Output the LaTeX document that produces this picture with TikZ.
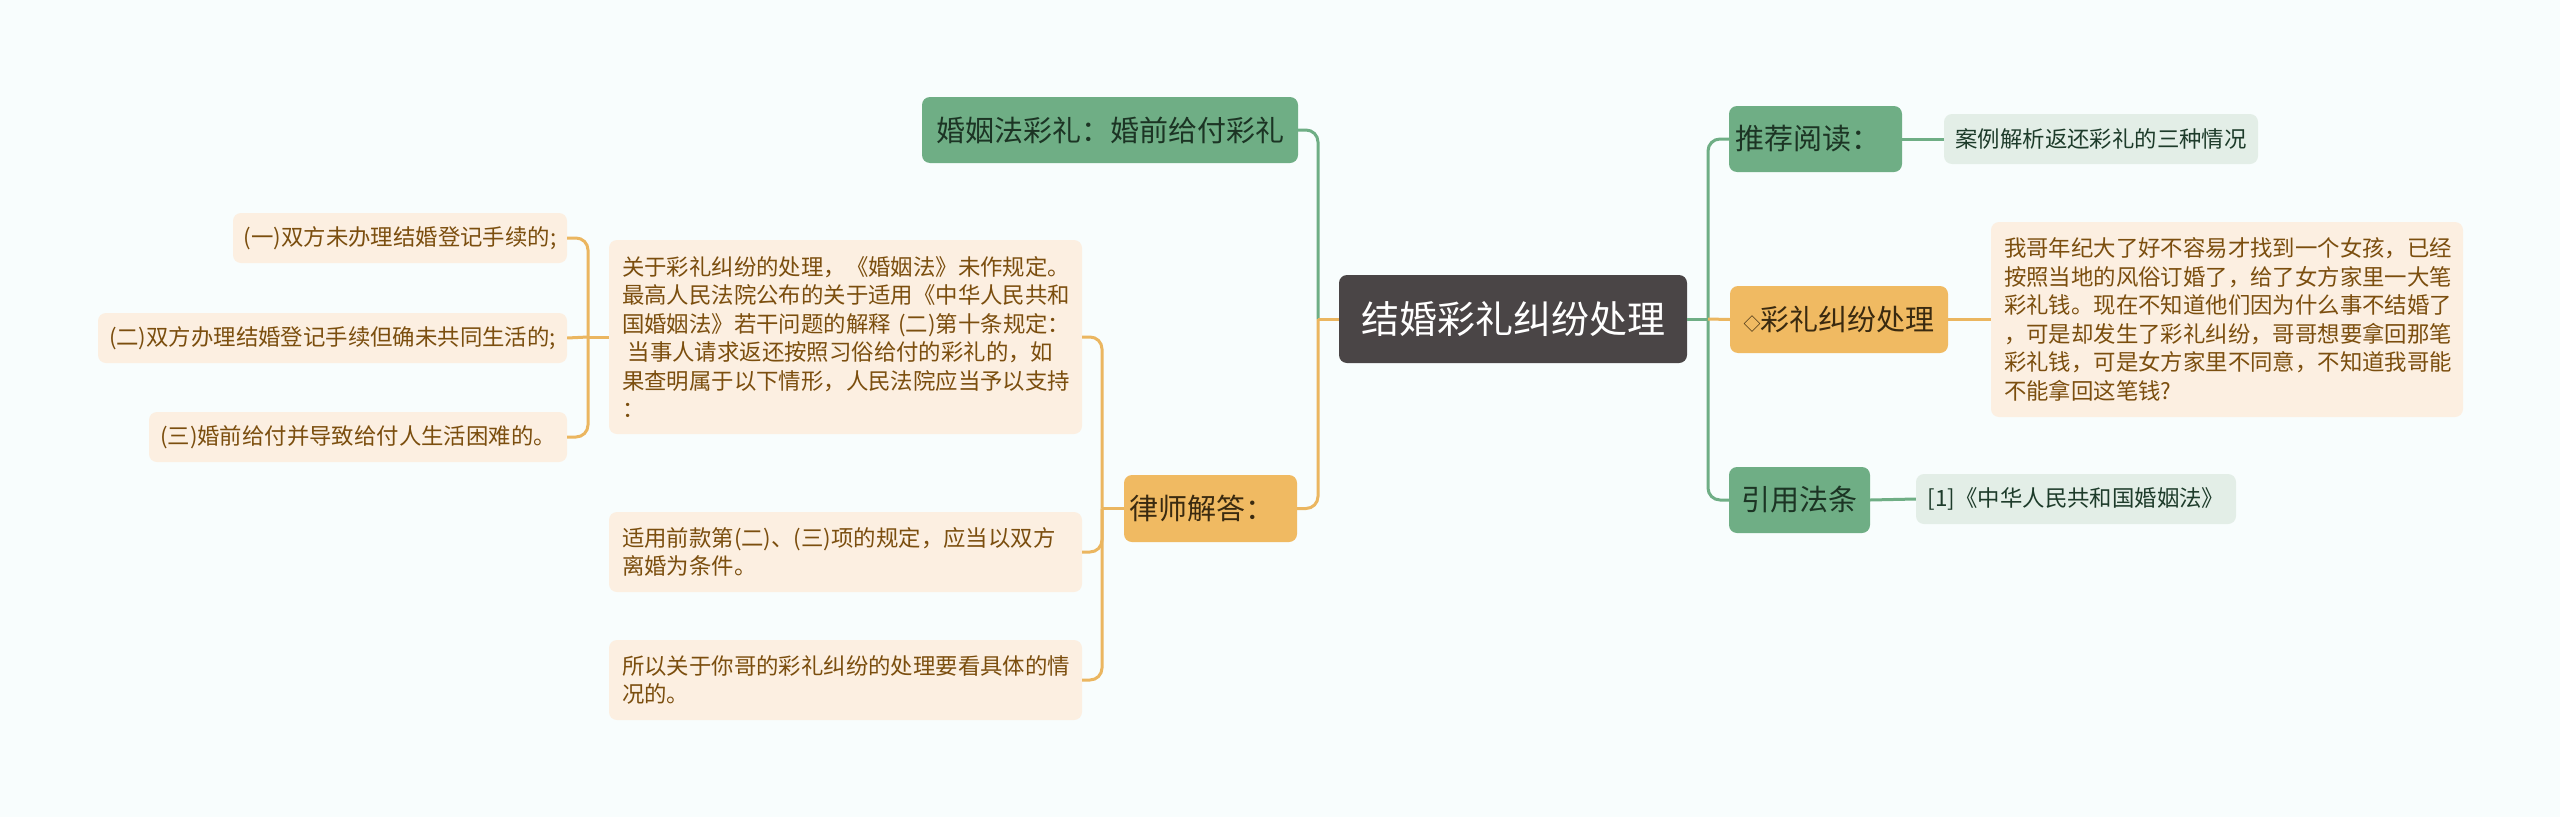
\documentclass[tikz,border=0pt]{standalone}
\usepackage{fontspec}
\setmainfont{Noto Sans CJK SC}
\definecolor{bgc}{HTML}{F8FDFD}
\definecolor{cdark}{HTML}{4A4546}
\definecolor{gfill}{HTML}{6FAE85}
\definecolor{gtext}{HTML}{1C3424}
\definecolor{ofill}{HTML}{F0BA62}
\definecolor{otext}{HTML}{3A2A10}
\definecolor{glight}{HTML}{E3EEE7}
\definecolor{gltext}{HTML}{1D3B2A}
\definecolor{olight}{HTML}{FCEFE1}
\definecolor{oltext}{HTML}{7B4E0E}
\definecolor{gline}{HTML}{6FAE85}
\definecolor{oline}{HTML}{EBB660}
\begin{document}
\begin{tikzpicture}[x=1pt,y=-1pt,
  basebox/.style={rounded corners=8pt, inner sep=0pt, align=center},
  centralbox/.style={basebox, fill=cdark, text=white, font=\fontsize{38}{46}\selectfont, minimum width=348pt, minimum height=88pt},
  gmain/.style={basebox, fill=gfill, text=gtext, font=\fontsize{29}{35}\selectfont, minimum height=66pt},
  omain/.style={basebox, fill=ofill, text=otext, font=\fontsize{29}{35}\selectfont, minimum height=67pt},
  gleaf/.style={basebox, fill=glight, text=gltext, font=\fontsize{22.4}{28.5}\selectfont, minimum height=50pt},
  oleaf/.style={basebox, fill=olight, text=oltext, font=\fontsize{22.4}{28.5}\selectfont, minimum height=50pt},
  oblock/.style={oleaf, align=left, inner xsep=13pt, text width=447pt},
  gconn/.style={draw=gline, line width=3pt, rounded corners=12pt},
  oconn/.style={draw=oline, line width=3pt, rounded corners=12pt}
]
\useasboundingbox (0,0) rectangle (2560,817);
\fill[bgc] (0,0) rectangle (2560,817);

% centre
\node[centralbox] (central) at (1513,319) {结婚彩礼纠纷处理};

% left main
\node[gmain, minimum width=376pt] (hun) at (1110,130) {婚姻法彩礼：婚前给付彩礼};
\node[omain, minimum width=173pt] (lawyer) at (1210.5,508.5) {律师解答：\hspace*{0.6em}};

% right main
\node[gmain, minimum width=173pt] (tuijian) at (1815.5,139) {推荐阅读：\hspace*{0.5em}};
\node[omain, minimum width=218pt] (caili) at (1839,319.5) {{\fontsize{17}{20}\selectfont ◇}彩礼纠纷处理};
\node[gmain, minimum width=141pt] (yinyong) at (1799.5,500) {引用法条};

% right leaves
\node[gleaf, minimum width=314pt] (anli) at (2101,139) {案例解析返还彩礼的三种情况};
\node[oblock, text width=446pt, minimum height=195pt] (wen) at (2227,319.5) {我哥年纪大了好不容易才找到一个女孩，已经\\按照当地的风俗订婚了，给了女方家里一大笔\\彩礼钱。现在不知道他们因为什么事不结婚了\\，可是却发生了彩礼纠纷，哥哥想要拿回那笔\\彩礼钱，可是女方家里不同意，不知道我哥能\\不能拿回这笔钱?};
\node[gleaf, minimum width=320pt] (fa) at (2076,499) {[1]《中华人民共和国婚姻法》};

% lawyer leaves
\node[oblock, minimum height=194pt] (guanyu) at (845.5,337) {关于彩礼纠纷的处理，《婚姻法》未作规定。\\最高人民法院公布的关于适用《中华人民共和\\\mbox{国婚姻法》若干问题的解释 (二)第十条规定：}\\\hspace*{0.25em}当事人请求返还按照习俗给付的彩礼的，如\\果查明属于以下情形，人民法院应当予以支持\\：};
\node[oblock, minimum height=80pt] (shiyong) at (845.5,552) {适用前款第(二)、(三)项的规定，应当以双方\\离婚为条件。};
\node[oblock, minimum height=80pt] (suoyi) at (845.5,680) {所以关于你哥的彩礼纠纷的处理要看具体的情\\况的。};

% sub leaves
\node[oleaf, minimum width=334pt] (yi) at (400,238) {(一)双方未办理结婚登记手续的;};
\node[oleaf, minimum width=469pt] (er) at (332.5,338) {(二)双方办理结婚登记手续但确未共同生活的;};
\node[oleaf, minimum width=418pt] (san) at (358,437) {(三)婚前给付并导致给付人生活困难的。};

% junctions
\coordinate (lj) at (1318,319);
\coordinate (rj) at (1708,319);
\coordinate (lb) at (1102,508.5);
\coordinate (gb) at (588,337);

% connectors: centre left
\draw[gconn] (lj) |- (hun.east);
\draw[oconn] (lj) |- (lawyer.east);
\draw[oconn] (central.west) -- (lj);

% connectors: centre right
\draw[gconn] (central.east) -- (rj);
\draw[gconn] (rj) |- (tuijian.west);
\draw[gconn] (rj) |- (yinyong.west);
\draw[oconn] (rj) -- (caili.west);
\draw[gconn] (tuijian.east) -- (anli.west);
\draw[oconn] (caili.east) -- (wen.west);
\draw[gconn] (yinyong.east) -- (fa.west);

% lawyer branches
\draw[oconn] (lawyer.west) -- (lb);
\draw[oconn] (lb) |- (guanyu.east);
\draw[oconn] (lb) |- (shiyong.east);
\draw[oconn] (lb) |- (suoyi.east);

% sub branches
\draw[oconn] (guanyu.west) -- (gb);
\draw[oconn] (gb) |- (yi.east);
\draw[oconn] (gb) -- (er.east);
\draw[oconn] (gb) |- (san.east);
\end{tikzpicture}
\end{document}
